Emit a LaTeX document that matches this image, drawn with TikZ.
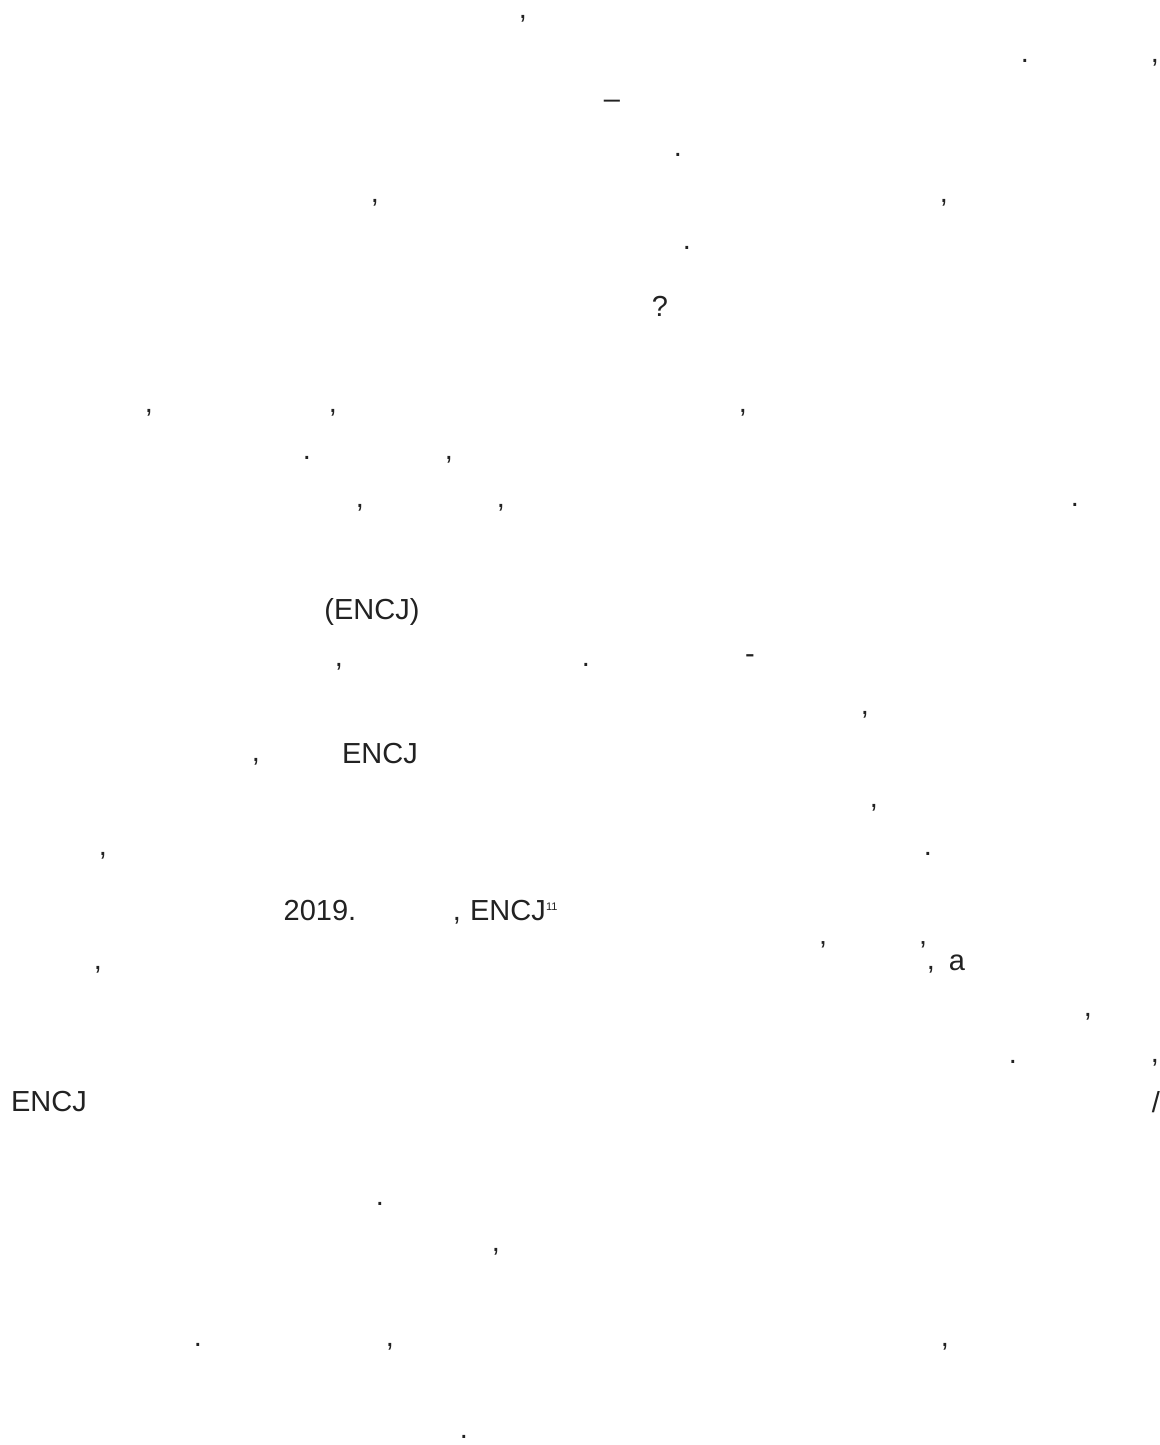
\documentclass[tikz,border=0pt]{standalone}
\usepackage{fontspec}
\setmainfont{Liberation Sans}
\definecolor{ink}{HTML}{222222}
\begin{document}
\begin{tikzpicture}[x=1pt,y=-1pt,
  every node/.style={inner sep=0pt,outer sep=0pt,text=ink,font=\fontsize{29}{34}\selectfont},
  pu/.style={anchor=center},
  wd/.style={anchor=base},
  sup/.style={anchor=base west,font=\fontsize{11}{13}\selectfont}]
\useasboundingbox (0,0) rectangle (1159,1445);
\fill[white] (0,0) rectangle (1159,1445);
\clip (0,0) rectangle (1159,1445);
% row 1-7
\node[pu] (c1) at (523,19) {,};
\node[pu] (d2a) at (1025,61) {.};
\node[pu] (c2b) at (1155,63) {,};
\node[pu] (dash3) at (612,104) {–};
\node[pu] (d4) at (678,155) {.};
\node[pu] (c5a) at (375,203) {,};
\node[pu] (c5b) at (944,203) {,};
\node[pu] (d6) at (687,248) {.};
\node[pu] (q7) at (660,306) {?};
% row 8-10
\node[pu] (c8a) at (149,413) {,};
\node[pu] (c8b) at (333,413) {,};
\node[pu] (c8c) at (743,413) {,};
\node[pu] (d9) at (307,458) {.};
\node[pu] (c9) at (449,460) {,};
\node[pu] (c10a) at (360,508) {,};
\node[pu] (c10b) at (501,508) {,};
\node[pu] (d10) at (1075,505) {.};
% row 11-16
\node[pu] (encj1) at (372,612) {(ENCJ)};
\node[pu] (c12) at (339,667) {,};
\node[pu] (d12) at (586,665) {.};
\node[pu] (h12) at (750,659) {-};
\node[pu] (c13) at (865,715) {,};
\node[pu] (c14) at (256,762) {,};
\node[wd] (encj2) at (380,763) {ENCJ};
\node[pu] (c15) at (874,808) {,};
\node[pu] (c16) at (103,856) {,};
\node[pu] (d16) at (928,854) {.};
% row 17-18
\node[wd] (y2019) at (320,920) {2019.};
\node[pu] (c17) at (457,921) {,};
\node[wd] (encj3) at (508,920) {ENCJ};
\node[sup] (s17) at (546,910) {11};
\node[pu] (c18a) at (98,970) {,};
\node[pu] (qo18) at (823,952) {'};
\node[pu] (qc18) at (923,952) {'};
\node[pu] (c18b) at (931,970) {,};
\node[wd] (a18) at (957,970) {a};
% row 19-25
\node[pu] (c19) at (1088,1017) {,};
\node[pu] (d20) at (1013,1062) {.};
\node[pu] (c20) at (1155,1063) {,};
\node[wd] (encj4) at (49,1111) {ENCJ};
\node[pu] (sl21) at (1156,1102) {/};
\node[pu] (d22) at (380,1204) {.};
\node[pu] (c23) at (496,1252) {,};
\node[pu] (d24) at (198,1345) {.};
\node[pu] (c24a) at (390,1347) {,};
\node[pu] (c24b) at (945,1347) {,};
\node[pu] (d25) at (464,1437) {.};
\end{tikzpicture}
\end{document}
